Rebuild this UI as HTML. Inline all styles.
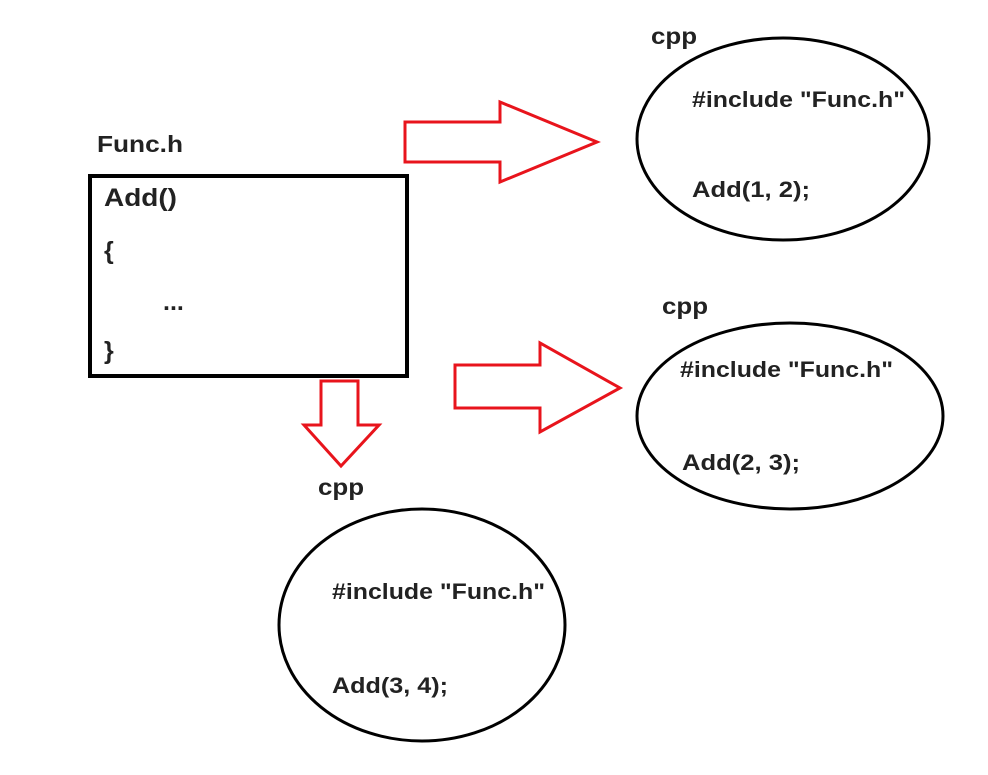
<!DOCTYPE html>
<html><head><meta charset="utf-8"><style>
html,body{margin:0;padding:0;background:#fff;}
svg{display:block;}
text{font-family:"Liberation Sans",Arial,sans-serif;font-weight:bold;fill:#222;}
</style></head><body>
<svg width="988" height="775" viewBox="0 0 988 775" xmlns="http://www.w3.org/2000/svg">
<rect width="988" height="775" fill="#fff"/>
<text x="97" y="152" font-size="23" textLength="86" lengthAdjust="spacingAndGlyphs">Func.h</text>
<rect x="90" y="176" width="317" height="200" fill="none" stroke="#000" stroke-width="4"/>
<text x="104" y="206" font-size="25" textLength="73" lengthAdjust="spacingAndGlyphs">Add()</text>
<text x="104" y="259" font-size="25">{</text>
<text x="163" y="310" font-size="25">...</text>
<text x="104" y="359" font-size="25">}</text>

<polygon points="405,122 500,122 500,102 597,142 500,182 500,162 405,162" fill="#fff" stroke="#e8141c" stroke-width="3"/>
<polygon points="455,365 540,365 540,343 620,388 540,432 540,408 455,408" fill="#fff" stroke="#e8141c" stroke-width="3"/>
<polygon points="321,381 358,381 358,425 379,425 341,466 304,425 321,425" fill="#fff" stroke="#e8141c" stroke-width="3"/>

<text x="651" y="44" font-size="23" textLength="46" lengthAdjust="spacingAndGlyphs">cpp</text>
<ellipse cx="783" cy="139" rx="146" ry="101" fill="none" stroke="#000" stroke-width="3"/>
<text x="692" y="107" font-size="22" textLength="213" lengthAdjust="spacingAndGlyphs">#include "Func.h"</text>
<text x="692" y="197" font-size="22" textLength="118" lengthAdjust="spacingAndGlyphs">Add(1, 2);</text>

<text x="662" y="314" font-size="23" textLength="46" lengthAdjust="spacingAndGlyphs">cpp</text>
<ellipse cx="790" cy="416" rx="153" ry="93" fill="none" stroke="#000" stroke-width="3"/>
<text x="680" y="377" font-size="22" textLength="213" lengthAdjust="spacingAndGlyphs">#include "Func.h"</text>
<text x="682" y="470" font-size="22" textLength="118" lengthAdjust="spacingAndGlyphs">Add(2, 3);</text>

<text x="318" y="495" font-size="23" textLength="46" lengthAdjust="spacingAndGlyphs">cpp</text>
<ellipse cx="422" cy="625" rx="143" ry="116" fill="none" stroke="#000" stroke-width="3"/>
<text x="332" y="599" font-size="22" textLength="213" lengthAdjust="spacingAndGlyphs">#include "Func.h"</text>
<text x="332" y="693" font-size="22" textLength="116" lengthAdjust="spacingAndGlyphs">Add(3, 4);</text>
</svg>
</body></html>
